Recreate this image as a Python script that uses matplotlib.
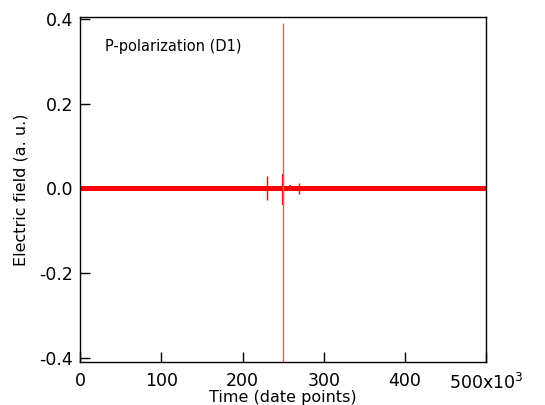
import numpy as np
import matplotlib.pyplot as plt

# time in units of 10^3 data points, field in a.u.
base_t = [0, 500]
base_v = [0.0, 0.0]

# small glitches sitting on the noise band
glitch_t = [12, 38, 55, 74, 90, 118, 135, 160, 172, 196, 208, 221, 240, 258, 263, 282, 296, 318, 345, 372, 398, 425, 452, 480]
glitch_v = [0.006, 0.005, -0.005, 0.006, 0.005, -0.006, 0.005, 0.006, -0.005, 0.007, 0.005, 0.006, 0.007, 0.008, -0.006, 0.007, 0.005, 0.006, -0.005, 0.005, 0.006, -0.005, 0.005, 0.005]

# larger spikes
spike_t = [230, 250, 270]
spike_lo = [-0.028, -0.040, -0.012]
spike_hi = [0.030, 0.035, 0.012]

# main pulse
pulse_t = 250
pulse_lo = -0.41
pulse_hi = 0.39

fig = plt.figure(figsize=(5.45, 4.05), dpi=100)
ax = fig.add_axes([0.147, 0.106, 0.745, 0.852])

ax.plot(base_t, base_v, color='#ff0000', lw=3.6, solid_capstyle='butt')
ax.vlines(glitch_t, 0, glitch_v, color='#ff0000', lw=1.2)
ax.vlines(spike_t[0], spike_lo[0], spike_hi[0], color='#ff0000', lw=1.0)
ax.vlines(spike_t[1], spike_lo[1], spike_hi[1], color='#ff0000', lw=1.6)
ax.vlines(spike_t[2], spike_lo[2], spike_hi[2], color='#ff0000', lw=1.0)
ax.vlines(pulse_t, pulse_lo, pulse_hi, color='#ff5555', lw=1.0)

ax.set_xlim(0, 500)
ax.set_ylim(-0.41, 0.405)
ax.set_xticks([0, 100, 200, 300, 400, 500])
ax.set_xticklabels(['0', '100', '200', '300', '400', ''])
ax.set_yticks([-0.4, -0.2, 0.0, 0.2, 0.4])
ax.set_yticklabels(['-0.4', '-0.2', '0.0', '0.2', '0.4'])
ax.tick_params(direction='in', length=7, width=1, labelsize=12.5, pad=5)
ax.tick_params(axis='x', pad=7)
for s in ax.spines.values():
	s.set_linewidth(1.0)

# the 500 label sits a bit lower than the rest
ax.text(500, -0.435, r'500x10$^3$', fontsize=12.5, ha='center', va='top')

ax.set_xlabel('Time (date points)', fontsize=11.5, labelpad=0)
ax.set_ylabel('Electric field (a. u.)', fontsize=11.5, labelpad=8)
ax.text(0.062, 0.915, 'P-polarization (D1)', transform=ax.transAxes, fontsize=10.5,
	va='center')

fig.savefig('out.png', dpi=100)
